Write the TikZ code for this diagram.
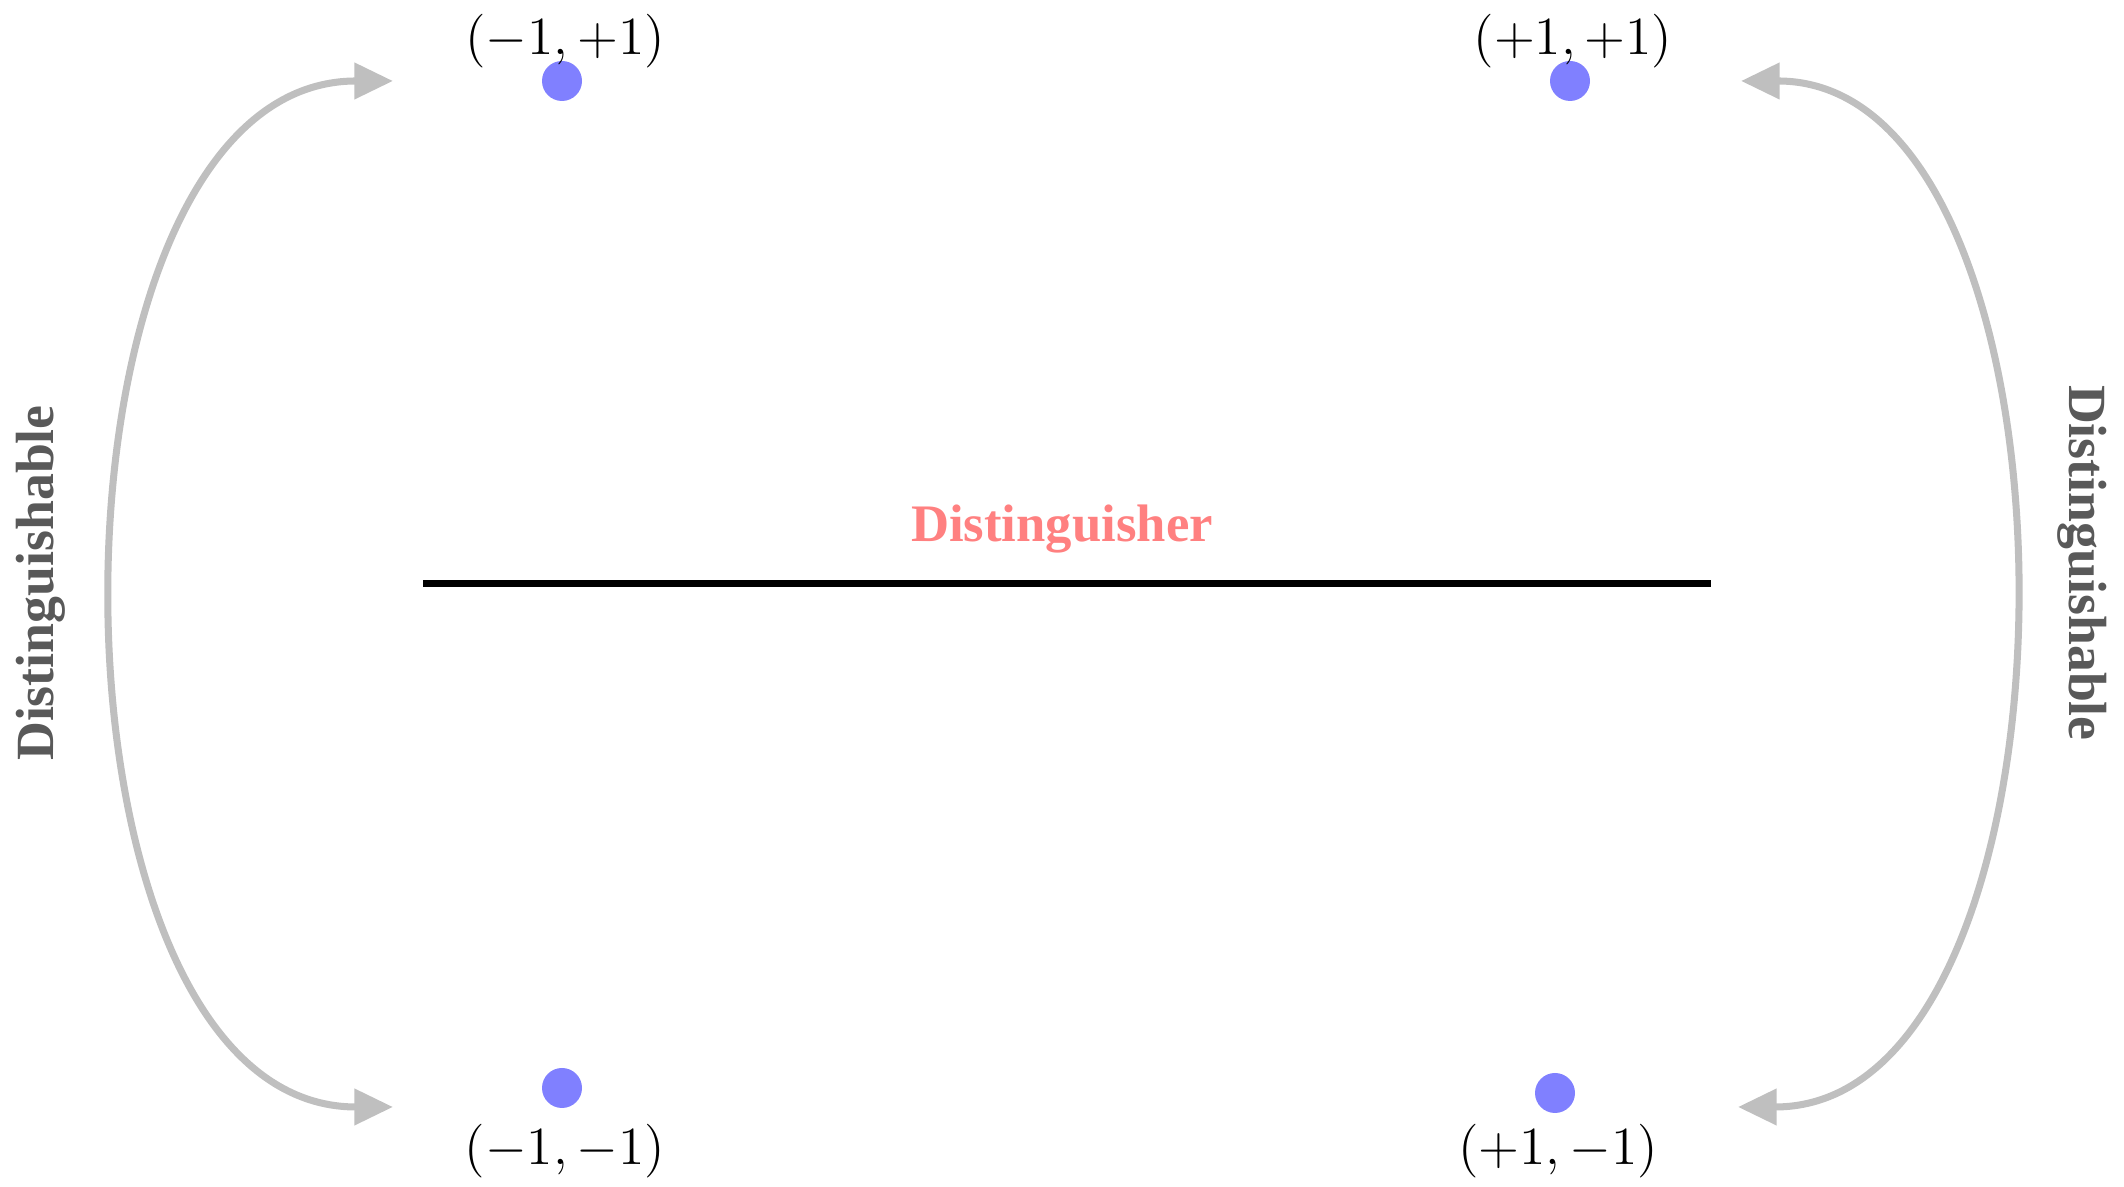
\documentclass[tikz,border=0pt]{standalone}
\usepackage{fontspec}
\setmainfont{Liberation Serif}
\usetikzlibrary{arrows.meta}

\begin{document}
\begin{tikzpicture}[x=1cm, y=1cm,
  pt/.style={circle, fill=blue!50, inner sep=0pt, minimum size=0.4cm},
  coord/.style={font=\fontsize{14.4}{17}\selectfont, scale=1.06, transform shape},
  link/.style={draw=black!25, line width=2pt, {Triangle[length=11pt,width=10pt]}-{Triangle[length=11pt,width=10pt]}},
  side/.style={font=\fontsize{15.3}{18}\selectfont\bfseries, text=black!65}]
  \useasboundingbox (0,0) rectangle (21.24,11.87);
  % four points
  \node[pt] (mp) at (5.62,11.06) {};
  \node[pt] (pp) at (15.70,11.06) {};
  \node[pt] (mm) at (5.62,0.99) {};
  \node[pt] (pm) at (15.55,0.94) {};
  \node[coord] at (5.65,11.46) {$(-1,+1)$};
  \node[coord] at (15.73,11.46) {$(+1,+1)$};
  \node[coord] at (5.65,0.36) {$(-1,-1)$};
  \node[coord] at (15.58,0.36) {$(+1,-1)$};
  % separating line
  \coordinate (lineL) at (4.23,6.03);
  \coordinate (lineR) at (17.11,6.03);
  \draw[line width=2pt] (lineL) -- (lineR);
  \node[font=\fontsize{15}{18}\selectfont\bfseries, text=red!50] (dist) at (10.62,6.58) {Distinguisher};
  % arrows on both sides
  \coordinate (aTL) at (3.93,11.06);
  \coordinate (aBL) at (3.93,0.80);
  \coordinate (aTR) at (17.41,11.06);
  \coordinate (aBR) at (17.38,0.80);
  \draw[link] (aTL) .. controls (0.25,11.06) and (0.25,0.80) .. (aBL);
  \draw[link] (aTR) .. controls (21.0,11.06) and (21.0,0.80) .. (aBR);
  \node[side, rotate=90] at (0.41,6.04) {Distinguishable};
  \node[side, rotate=-90] at (20.82,6.24) {Distinguishable};
\end{tikzpicture}
\end{document}
